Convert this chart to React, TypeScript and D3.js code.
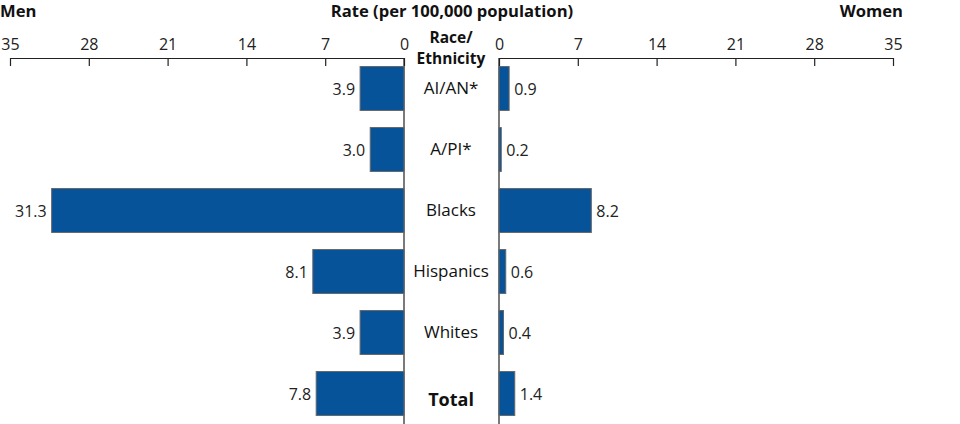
import React, { useRef, useEffect } from 'react';
import * as d3 from 'd3';

// rates per 100,000 population
const groups = ['AI/AN*', 'A/PI*', 'Blacks', 'Hispanics', 'Whites', 'Total'];
const menRates = [3.9, 3.0, 31.3, 8.1, 3.9, 7.8];
const womenRates = [0.9, 0.2, 8.2, 0.6, 0.4, 1.4];
const tickValues = [0, 7, 14, 21, 28, 35];

function App() {
  const svgRef = useRef<SVGSVGElement>(null);

  useEffect(() => {
    const w = 960;
    const h = 424;
    const font = '"Open Sans", sans-serif';
    const barColor = '#07539a';
    const svg = d3.select(svgRef.current).attr('width', w).attr('height', h);
    svg.selectAll('*').remove();

    //scales for both halves
    const xMen = d3.scaleLinear().domain([0, 35]).range([404, 10]);
    const xWomen = d3.scaleLinear().domain([0, 35]).range([499, 893]);
    const y = d3.scaleBand().domain(groups).range([58, 424]).paddingInner(0.28).paddingOuter(0.14);
    const axisY = 58;

    // titles
    const titles = svg.append('g').style('font-family', font).style('font-weight', 'bold').style('font-size', '16.6px').attr('fill', '#111');
    titles.append('text').attr('x', 0).attr('y', 17).text('Men');
    titles.append('text').attr('x', 452).attr('y', 17).attr('text-anchor', 'middle').text('Rate (per 100,000 population)');
    titles.append('text').attr('x', 903).attr('y', 17).attr('text-anchor', 'end').text('Women');
    // column header, two lines
    const header = svg.append('text').attr('text-anchor', 'middle').style('font-family', font).style('font-weight', 'bold').style('font-size', '15.5px').attr('fill', '#111');
    header.append('tspan').attr('x', 451).attr('y', 43).text('Race/');
    header.append('tspan').attr('x', 451).attr('y', 64).text('Ethnicity');

    const drawAxis = (scale: any) => {
      const g = svg
        .append('g')
        .attr('transform', `translate(0, ${axisY})`)
        .call(d3.axisTop(scale).tickValues(tickValues).tickSize(0).tickSizeOuter(0).tickPadding(8));
      g.select('.domain').attr('stroke', '#222').attr('stroke-width', 1.2);
      g.selectAll('.tick text').style('font-family', font).style('font-size', '16px').attr('fill', '#222');
      // ticks point down
      g.selectAll('.tick').append('line').attr('y1', 0).attr('y2', 8).attr('stroke', '#222').attr('stroke-width', 1.2);
      svg
        .append('line')
        .attr('x1', scale(0))
        .attr('x2', scale(0))
        .attr('y1', axisY)
        .attr('y2', h)
        .attr('stroke', '#222')
        .attr('stroke-width', 1.2);
    };
    drawAxis(xMen);
    drawAxis(xWomen);

    // men bars
    svg
      .selectAll('.men')
      .data(menRates)
      .join('rect')
      .attr('x', (d) => xMen(d))
      .attr('y', (d, i) => y(groups[i]) as number)
      .attr('width', (d) => xMen(0) - xMen(d))
      .attr('height', y.bandwidth())
      .attr('fill', barColor)
      .attr('stroke', '#666')
      .attr('stroke-width', 1);

    svg
      .selectAll('.menLabel')
      .data(menRates)
      .join('text')
      .attr('x', (d) => xMen(d) - 5)
      .attr('y', (d, i) => (y(groups[i]) as number) + y.bandwidth() / 2 + 6)
      .attr('text-anchor', 'end')
      .style('font-family', font)
      .style('font-size', '16px')
      .attr('fill', '#222')
      .text((d) => d.toFixed(1));

    // women bars
    svg
      .selectAll('.women')
      .data(womenRates)
      .join('rect')
      .attr('x', xWomen(0))
      .attr('y', (d, i) => y(groups[i]) as number)
      .attr('width', (d) => xWomen(d) - xWomen(0))
      .attr('height', y.bandwidth())
      .attr('fill', barColor)
      .attr('stroke', '#666')
      .attr('stroke-width', 1);

    svg
      .selectAll('.womenLabel')
      .data(womenRates)
      .join('text')
      .attr('x', (d) => xWomen(d) + 5)
      .attr('y', (d, i) => (y(groups[i]) as number) + y.bandwidth() / 2 + 6)
      .style('font-family', font)
      .style('font-size', '16px')
      .attr('fill', '#222')
      .text((d) => d.toFixed(1));

    // category labels in the middle
    svg
      .selectAll('.cat')
      .data(groups)
      .join('text')
      .attr('x', 451)
      .attr('y', (d) => (y(d) as number) + y.bandwidth() / 2 + (d === 'Total' ? 12 : 5))
      .attr('text-anchor', 'middle')
      .style('font-family', font)
      .style('font-size', (d) => (d === 'Total' ? '18px' : '17px'))
      .style('font-weight', (d) => (d === 'Total' ? 'bold' : 'normal'))
      .attr('fill', '#111')
      .text((d) => d);
  }, []);

  return (
    <div>
      <svg ref={svgRef} style={{ position: 'absolute', left: 0, top: 0 }}></svg>
    </div>
  );
}

export default App;
